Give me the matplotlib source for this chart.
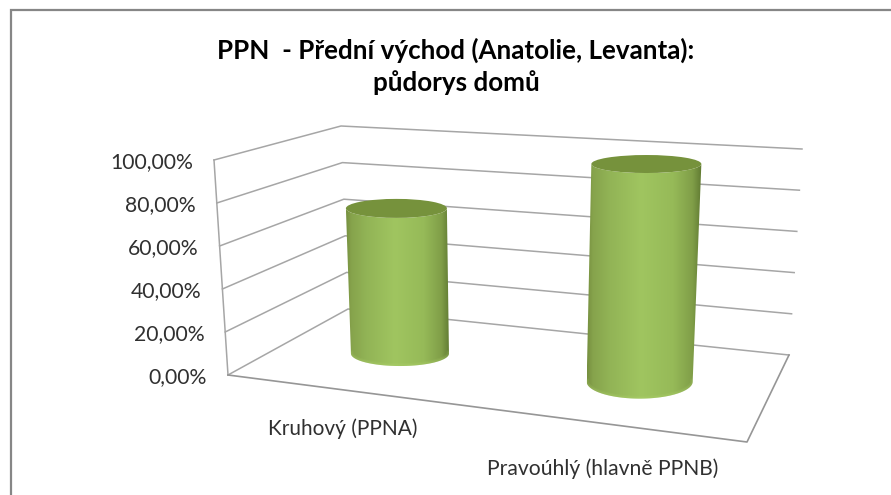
import numpy as np
import matplotlib
matplotlib.use('Agg')
import matplotlib.pyplot as plt
from matplotlib.patches import Ellipse, PathPatch, Rectangle
from matplotlib.path import Path

plt.rcParams['font.family'] = ['Lato', 'DejaVu Sans']

categories = ['Kruhový (PPNA)', 'Pravoúhlý (hlavně PPNB)']
values = [71, 100]
ticks = [0, 20, 40, 60, 80, 100]
tick_labels = ['0,00%', '20,00%', '40,00%', '60,00%', '80,00%', '100,00%']
title = 'PPN  - Přední východ (Anatolie, Levanta):\npůdorys domů'

# box corners in pixels: floor and top plane
floor = dict(fl=(228, 375), fr=(747, 442), bl=(348, 309), br=(789, 355))
roof = dict(fl=(214, 160), fr=(760, 197), bl=(341, 126), br=(802, 149))

# where the cylinders stand on the floor, and their radii at base and top
slot_s = [0.229, 0.73]
slot_t = 0.52
rx_base = [49, 53]
rx_top = [50.5, 55]
ry_base = [12.5, 17]
ry_top = [9.5, 9]


def plane(p, s, t):
    front = np.array(p['fl']) + s * (np.array(p['fr']) - np.array(p['fl']))
    back = np.array(p['bl']) + s * (np.array(p['br']) - np.array(p['bl']))
    return front + t * (back - front)


def project(s, t, v):
    a = plane(floor, s, t)
    b = plane(roof, s, t)
    return a + (b - a) * v / 100.0


def cylinder(ax, cb, ct, rxb, rxt, ryb, ryt):
    # side, clipped out of a horizontal gradient image
    n = 60
    th = np.linspace(np.pi, 2 * np.pi, n)
    top_x = ct[0] + rxt * np.cos(th)
    top_y = ct[1] - ryt * np.sin(th)
    th2 = np.linspace(2 * np.pi, np.pi, n)
    bot_x = cb[0] + rxb * np.cos(th2)
    bot_y = cb[1] - ryb * np.sin(th2)
    verts = np.r_[np.c_[top_x, top_y], np.c_[bot_x, bot_y], [[top_x[0], top_y[0]]]]
    codes = [Path.MOVETO] + [Path.LINETO] * (len(verts) - 2) + [Path.CLOSEPOLY]
    patch = PathPatch(Path(verts, codes), fc='none', ec='none', zorder=3)
    ax.add_patch(patch)

    stops = [0, 0.05, 0.2, 0.47, 0.75, 0.92, 1]
    cols = np.array([[118, 144, 64], [134, 163, 76], [146, 180, 86], [160, 197, 96],
                     [150, 186, 88], [128, 158, 72], [96, 122, 50]], dtype=float)
    xs = np.linspace(0, 1, 200)
    grad = np.stack([np.interp(xs, stops, cols[:, i]) for i in range(3)], axis=1)
    x0 = min(verts[:, 0].min(), ct[0] - rxt)
    x1 = max(verts[:, 0].max(), ct[0] + rxt)
    y0, y1 = verts[:, 1].min(), verts[:, 1].max()
    im = ax.imshow(grad[None, :, :] / 255, extent=(x0, x1, y1, y0), aspect='auto',
                   interpolation='bilinear', zorder=3)
    im.set_clip_path(patch)

    # soft lighter rim along the base
    for lw, a in [(3.5, 0.12), (1.8, 0.18)]:
        rim, = ax.plot(bot_x, bot_y - 0.5, color='#b4d870', lw=lw, alpha=a, zorder=3.5)
        rim.set_clip_path(patch)

    ax.add_patch(Ellipse(ct, 2 * rxt, 2 * ryt, fc='#76923c', ec='none', zorder=4))


fig = plt.figure(figsize=(8.91, 4.95), dpi=100)
ax = fig.add_axes([0, 0, 1, 1])
ax.set_xlim(0, 891)
ax.set_ylim(495, 0)
ax.axis('off')

ax.add_patch(Rectangle((11, 10), 900, 500, fc='white', ec='#868686', lw=1.6, zorder=0))

grid_c = '#a6a6a6'
for v in ticks:
    p = np.array([project(0, 0, v), project(0, 1, v), project(1, 1, v)])
    ax.plot(p[:, 0], p[:, 1], color=grid_c, lw=1.1, zorder=1)

# front edge of the left wall and the floor outline
edge = np.array([project(0, 0, 0), project(0, 0, 100)])
ax.plot(edge[:, 0], edge[:, 1], color=grid_c, lw=1.1, zorder=1)
fl = np.array([project(0, 0, 0), project(1, 0, 0), project(1, 1, 0)])
ax.plot(fl[:, 0], fl[:, 1], color='#969696', lw=1.2, zorder=1)

for i, val in enumerate(values):
    cb = project(slot_s[i], slot_t, 0)
    ct = project(slot_s[i], slot_t, val)
    cylinder(ax, cb, ct, rx_base[i], rx_top[i], ry_base[i], ry_top[i])

for v, lab in zip(ticks, tick_labels):
    x, y = project(0, 0, v)
    ax.text(x - 21, y + 2.5, lab, ha='right', va='center', fontsize=15.2, color='#303030')

ax.text(343, 429, categories[0], ha='center', va='center', fontsize=15, color='#303030')
ax.text(603, 469, categories[1], ha='center', va='center', fontsize=15.2, color='#303030')
ax.text(456, 66.5, title, ha='center', va='center', fontsize=18.7, fontweight='bold',
        color='black', linespacing=1.36)

fig.savefig('out.png', dpi=100)
